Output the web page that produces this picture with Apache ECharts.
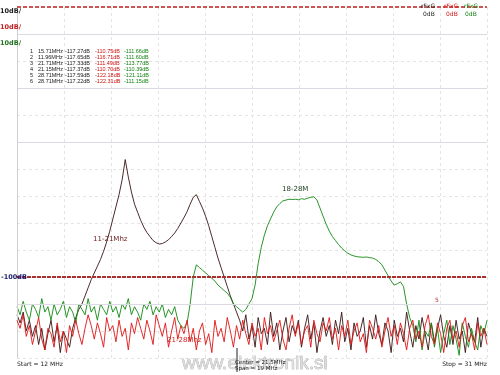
<!DOCTYPE html>
<html><head><meta charset="utf-8">
<script src="https://cdn.jsdelivr.net/npm/echarts@6/dist/echarts.min.js"></script>
<style>html,body{margin:0;padding:0;background:#fff}#c{width:500px;height:375px}</style>
</head><body><div id="c"></div>
<script>
// Sweep frequencies (MHz)
const freqMHz = [
12,12.125,12.25,12.375,12.5,12.625,12.75,12.875,
13,13.125,13.25,13.375,13.5,13.625,13.75,13.875,
14,14.125,14.25,14.375,14.5,14.625,14.75,14.875,
15,15.125,15.25,15.375,15.5,15.625,15.75,15.875,
16,16.125,16.25,16.375,16.5,16.625,16.75,16.875,
17,17.125,17.25,17.375,17.5,17.625,17.75,17.875,
18,18.125,18.25,18.375,18.5,18.625,18.75,18.875,
19,19.125,19.25,19.375,19.5,19.625,19.75,19.875,
20,20.125,20.25,20.375,20.5,20.625,20.75,20.875,
21,21.125,21.25,21.375,21.5,21.625,21.75,21.875,
22,22.125,22.25,22.375,22.5,22.625,22.75,22.875,
23,23.125,23.25,23.375,23.5,23.625,23.75,23.875,
24,24.125,24.25,24.375,24.5,24.625,24.75,24.875,
25,25.125,25.25,25.375,25.5,25.625,25.75,25.875,
26,26.125,26.25,26.375,26.5,26.625,26.75,26.875,
27,27.125,27.25,27.375,27.5,27.625,27.75,27.875,
28,28.125,28.25,28.375,28.5,28.625,28.75,28.875,
29,29.125,29.25,29.375,29.5,29.625,29.75,29.875,
30,30.125,30.25,30.375,30.5,30.625,30.75,30.875,
31];

// Black trace (dB) - 11-21 MHz filter
const blackDb = [
-114,-117,-113,-120,-116,-122,-118,-125,-119,-127,-121,-116,-124,-118,-128,-120,-123,-126,-119,-115,-112,
-110,-107,-104,-101,-98.5,-96,-93.5,-90.5,-87,-83,-78.5,-74,-69.5,-64,-56.5,-63,-68.5,-73,-76,-79,
-81.5,-83.5,-85,-86.5,-87.3,-87.8,-87.6,-87,-86.2,-85,-83.7,-82,-80,-78,-75.8,-73,-70.5,-69.5,-72,-74.5,
-77.5,-81,-85,-89,-93,-96.5,-100,-103.5,-107,-110,-113,
-116,-120,-114,-123,-118,-126,-115,-121,-119,-125,
-113,-122,-117,-127,-120,-115,-124,-118,-121,-116,
-126,-119,-114,-123,-117,-128,-120,-115,-122,-118,
-125,-116,-121,-113,-124,-119,-127,-117,-122,-120,
-115,-126,-118,-123,-114,-121,-125,-117,-120,-128,
-116,-122,-119,-124,-113,-120,-126,-118,-123,-115,
-121,-127,-117,-124,-119,-114,-122,-126,-118,-125,
-116,-123,-120,-128,-117,-121,-124,-115,-126,-119,
-122];

// Green trace (dB) - 18-28 MHz filter
const greenDb = [
-111,-114,-109,-113,-116,-110,-112,-115,-108,-113,
-111,-116,-110,-114,-112,-109,-115,-111,-113,-117,
-110,-112,-114,-108,-113,-111,-116,-110,-112,-114,
-109,-113,-111,-115,-110,-112,-108,-114,-111,-113,
-116,-110,-112,-109,-114,-111,-113,-110,-115,-112,
-114,-111,-116,-118,
-119,-117,-110,-100,-95.5,-96.5,-97.5,-98.5,-99.5,-100.5,-101.5,-103,-104,-105,-106,-107.5,
-110,-111,-112,-113,-112,-110,-108,-103,-95,-89,-84.5,-81,-78.5,-76,-74,-72.8,-71.8,-71.5,
-71.2,-71.3,-71.2,-71.4,-71,-71.2,-70.8,-70.5,-70.3,-71.5,-74.5,-77.5,-80.5,-83,-85,-86.5,
-88,-89.3,-90.3,-91.2,-91.8,-92.2,-92.5,-92.6,-92.7,-92.6,-92.8,-93,-93.5,-94.3,-95.5,-97.5,
-99.5,-101.5,-103,-102.5,-101.8,-103.5,-110,-115,
-118,-124,-116,-127,-120,-122,-117,-126,-119,-128,-121,-116,-125,-118,-123,-129,-117,-122,-126,-119,-124,-127,-118,-121,-116];

// Red trace (dB) - noise
const redDb = [
-116,-119,-114,-122,-118,-125,-120,-115,-123,-127,-119,-121,-126,-117,-124,-120,-128,-118,-122,-116,
-121,-125,-119,-114,-118,-123,-117,-121,-126,-115,-120,-118,-124,-116,-122,-119,-127,-117,-121,-115,
-119,-123,-116,-120,-125,-114,-118,-122,-117,-126,-120,-115,-123,-118,-121,-116,-124,-119,-127,-120,
-117,-125,-121,-128,-116,-122,-119,-124,-115,-120,-126,-118,-123,-116,-121,-125,-117,-122,-119,-127,
-115,-121,-118,-124,-120,-116,-123,-127,-119,-114,-122,-117,-125,-120,-118,-126,-116,-121,-124,-117,
-120,-115,-123,-119,-127,-118,-122,-116,-125,-120,-117,-124,-121,-128,-116,-119,-123,-118,-126,-120,
-115,-122,-118,-125,-117,-121,-127,-119,-116,-123,-120,-126,-118,-114,-122,-125,-117,-121,-128,-119,
-116,-123,-120,-126,-118,-115,-124,-121,-127,-117,-122,-119,-125];

// Marker table
const markerIdx   = ['1','2','3','4','5','6'];
const markerFreq  = ['15.71MHz','11.96MHz','21.71MHz','21.15MHz','28.71MHz','28.71MHz'];
const markerBlack = ['-117.27dB','-117.65dB','-117.33dB','-117.37dB','-117.59dB','-117.22dB'];
const markerRed   = ['-110.75dB','-116.71dB','-111.49dB','-110.70dB','-122.18dB','-122.31dB'];
const markerGreen = ['-111.66dB','-111.60dB','-113.77dB','-110.39dB','-121.11dB','-111.15dB'];

const FONT = 'DejaVu Sans';
const chart = echarts.init(document.getElementById('c'), null, {renderer:'canvas'});
const zip = arr => arr.map((v,i)=>[freqMHz[i], v]);

const graphics = [];
function txt(x,y,text,fill,size,opts){
  graphics.push(Object.assign({type:'text', x:x, y:y, z:100, silent:true,
    style:Object.assign({text:text, fill:fill, fontSize:size, fontFamily:FONT, verticalAlign:'middle'}, opts||{})}));
}
txt(0,11,'10dB/','#202020',6.5,{fontWeight:'bold'});
txt(0,27,'10dB/','#c02020',6.5,{fontWeight:'bold'});
txt(0,43,'10dB/','#207020',6.5,{fontWeight:'bold'});
txt(1,277,'-100dB','#202070',6.5,{fontWeight:'bold'});
for(let k=0;k<markerIdx.length;k++){
  const y = 51 + k*6;
  const o = {fontFamily:'Liberation Sans'};
  txt(33,y,markerIdx[k],'#202020',5.5,Object.assign({align:'right'},o));
  txt(38,y,markerFreq[k],'#202020',5.5,o);
  txt(65,y,markerBlack[k],'#202020',5.5,o);
  txt(95,y,markerRed[k],'#d01010',5.5,o);
  txt(124,y,markerGreen[k],'#108010',5.5,o);
}
txt(421,6,'rFxG','#202020',6);
txt(423,14,'0dB','#202020',6);
txt(444,6,'rFxG','#d01010',6);
txt(446,14,'0dB','#d01010',6);
txt(464,6,'rFxG','#108010',6);
txt(465,14,'0dB','#108010',6);
txt(93,239,'11-21Mhz','#702020',7);
txt(282,189,'18-28M','#204020',7);
txt(167,340,'21-28Mhz','#d02020',7);
txt(17,364,'Start = 12 MHz','#202020',6);
txt(487,364,'Stop = 31 MHz','#202020',6,{align:'right'});
txt(182,364,'www.elektronik.si','#dcdcdc',19,{fontFamily:'Liberation Sans', stroke:'#a0a0a0', lineWidth:0.6});
graphics.push({type:'line', z:101, silent:true, shape:{x1:237,y1:348,x2:237,y2:372}, style:{stroke:'#202020',lineWidth:1}});
txt(235,363,'Center = 21.5MHz','#202020',5.5);
txt(235,369,'Span = 19 MHz','#202020',5.5);
txt(435,300,'5','#c03030',6);

const solidLevels = [-10,-30,-50,-110];

chart.setOption({
  animation:false,
  backgroundColor:'#ffffff',
  grid:{left:17, right:13, top:7, bottom:17, containLabel:false},
  xAxis:[
    {type:'value', min:12, max:31, show:false, splitLine:{show:false}},
    {type:'value', min:0, max:10, interval:1, position:'bottom',
     axisLine:{show:false}, axisTick:{show:false}, axisLabel:{show:false},
     splitLine:{show:true, lineStyle:{color:'#e4e4e4', width:1, type:[3,3]}}}
  ],
  yAxis:{type:'value', min:-130, max:0, interval:10,
    axisLine:{show:false}, axisTick:{show:false}, axisLabel:{show:false},
    splitLine:{show:true, lineStyle:{color:'#e4e4e4', width:1, type:[3,3]}}},
  graphic:graphics,
  series:[
    {type:'line', xAxisIndex:0, data:[], silent:true,
     markLine:{silent:true, symbol:'none', label:{show:false},
       data: solidLevels.map(v=>({yAxis:v, lineStyle:{color:'#dadae2', width:1, type:'solid'}}))
         .concat([{xAxis:12, lineStyle:{color:'#d0d0d0', width:1, type:'solid'}}])}},
    {name:'black', type:'line', xAxisIndex:0, data:zip(blackDb), showSymbol:false, symbol:'none',
     lineStyle:{color:'#3a1414', width:1, opacity:0.9}, z:3},
    {name:'green', type:'line', xAxisIndex:0, data:zip(greenDb), showSymbol:false, symbol:'none',
     lineStyle:{color:'#128a12', width:1, opacity:0.9}, z:4},
    {name:'red', type:'line', xAxisIndex:0, data:zip(redDb), showSymbol:false, symbol:'none',
     lineStyle:{color:'#e01414', width:1, opacity:0.9}, z:5,
     markLine:{silent:true, symbol:'none', label:{show:false},
       data:[{yAxis:0, lineStyle:{color:'#cc5555', width:2, type:[4,2]}},
             {yAxis:-100, lineStyle:{color:'#a83030', width:2, type:[4,1]}}]}}
  ]
});
</script></body></html>
